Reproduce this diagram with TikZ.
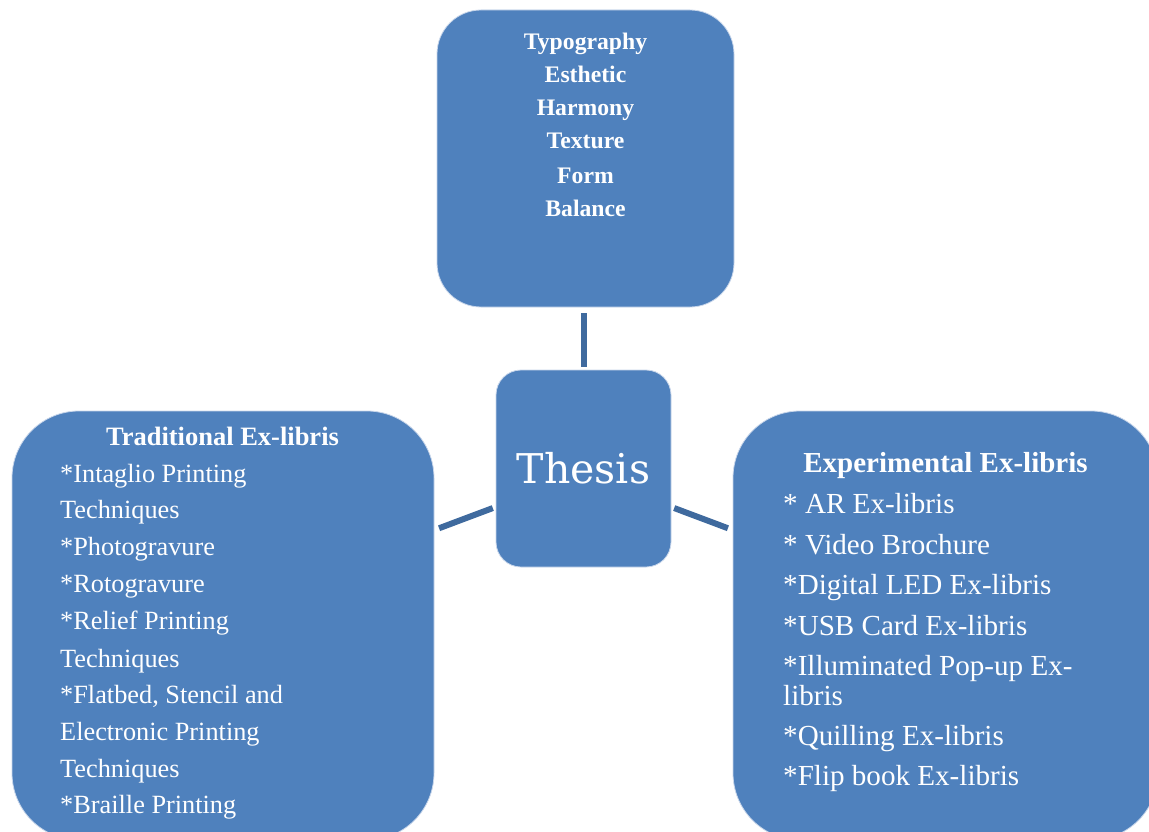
\documentclass[tikz,border=0pt]{standalone}
\usepackage{fontspec}
\setmainfont{Liberation Serif}
\newfontfamily\thesisfont{DejaVu Serif}
\definecolor{boxblue}{HTML}{4F81BD}
\definecolor{connblue}{HTML}{3F6A9E}
\definecolor{edgeline}{HTML}{C9D7EB}
\tikzset{
  box/.style={rectangle, fill=boxblue, draw=edgeline, line width=0.8pt, inner sep=0pt},
  conn/.style={draw=connblue, line width=6pt},
  toptext/.style={text=white, inner sep=0pt, anchor=base, font=\fontsize{23.7}{28}\selectfont\bfseries},
  lefttitle/.style={text=white, inner sep=0pt, anchor=base, font=\fontsize{26.5}{30}\selectfont\bfseries},
  leftbody/.style={text=white, inner sep=0pt, anchor=base west, font=\fontsize{26.3}{30}\selectfont},
  righttitle/.style={text=white, inner sep=0pt, anchor=base, font=\fontsize{29}{33}\selectfont\bfseries},
  rightbody/.style={text=white, inner sep=0pt, anchor=base west, font=\fontsize{29.1}{33}\selectfont},
  thesistext/.style={text=white, inner sep=0pt, anchor=base, font=\fontsize{41}{46}\selectfont\thesisfont}
}
\begin{document}
\begin{tikzpicture}[x=1pt, y=-1pt]
\clip (0,0) rectangle (1149,832);
\fill[white] (0,0) rectangle (1149,832);
% boxes
\node[box, minimum width=297pt, minimum height=297pt, rounded corners=44pt] (top) at (585.5,158.5) {};
\node[box, minimum width=175pt, minimum height=197pt, rounded corners=25pt] (thesis) at (583.5,468.5) {};
\node[box, minimum width=422pt, minimum height=429pt, rounded corners=67pt] (left) at (223,625.5) {};
\node[box, minimum width=425pt, minimum height=429pt, rounded corners=67pt] (right) at (945.5,625.5) {};
% connectors
\draw[conn, shorten <=3pt, shorten >=6pt] (thesis.north) -- (thesis.north |- top.south);
\draw[conn, shorten <=3pt, shorten >=5pt] ([yshift=-38.5pt]thesis.west) -- ([yshift=95.5pt]left.east);
\draw[conn, shorten <=3pt, shorten >=5pt] ([yshift=-38.5pt]thesis.east) -- ([yshift=95.5pt]right.west);
% texts
\node[thesistext] (thesislabel) at (583.5,483) {Thesis};
\foreach \t/\y [count=\i] in {Typography/50, Esthetic/83, Harmony/116, Texture/149, Form/183, Balance/216}
  \node[toptext, name=top\i] at (585.5,\y) {\t};
\node[lefttitle] (lt) at (222.5,445) {Traditional Ex-libris};
\foreach \t/\y [count=\i] in {*Intaglio Printing/482, Techniques/518, *Photogravure/555, *Rotogravure/592, *Relief Printing/629, Techniques/667, {*Flatbed, Stencil and}/703, Electronic Printing/740, Techniques/777, *Braille Printing/813}
  \node[leftbody, name=lb\i] at (60,\y) {\t};
\node[righttitle] (rt) at (945.5,472) {Experimental Ex-libris};
\foreach \t/\y [count=\i] in {* AR Ex-libris/513, * Video Brochure/554, *Digital LED Ex-libris/594, *USB Card Ex-libris/635, *Illuminated Pop-up Ex-/675, libris/705, *Quilling Ex-libris/745, *Flip book Ex-libris/785}
  \node[rightbody, name=rb\i] at (783,\y) {\t};
\end{tikzpicture}
\end{document}
